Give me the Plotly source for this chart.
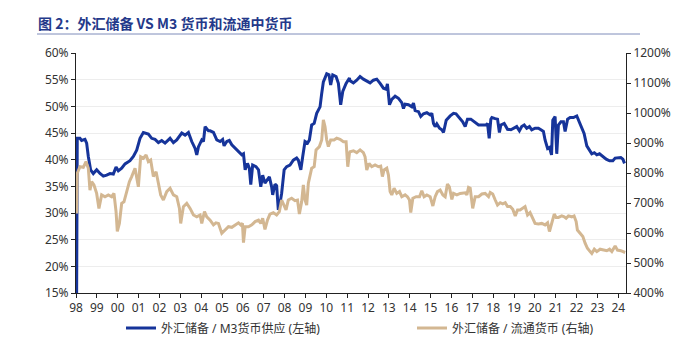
import plotly.graph_objects as go

# ---------------- data ----------------
tick_years = list(range(1998, 2025))
tick_labels = ["98", "99", "00", "01", "02", "03", "04", "05", "06", "07", "08", "09", "10",
               "11", "12", "13", "14", "15", "16", "17", "18", "19", "20", "21", "22", "23", "24"]

# 外汇储备 / M3货币供应 (左轴), %
m3_years = [
    1998.03, 1998.06, 1998.19, 1998.27, 1998.43, 1998.51, 1998.59, 1998.70, 1998.83, 1998.99,
    1999.15, 1999.31, 1999.47, 1999.63, 1999.79, 1999.92, 2000.03, 2000.19, 2000.35, 2000.59,
    2000.75, 2000.91, 2001.07, 2001.23, 2001.47, 2001.63, 2001.79, 2001.95, 2002.11, 2002.27,
    2002.51, 2002.67, 2002.83, 2003.07, 2003.23, 2003.39, 2003.55, 2003.71, 2003.79, 2003.87,
    2004.03, 2004.11, 2004.19, 2004.35, 2004.43, 2004.59, 2004.75, 2004.91, 2005.03, 2005.10,
    2005.23, 2005.35, 2005.47, 2005.63, 2005.79, 2005.95, 2006.03, 2006.11, 2006.22, 2006.31,
    2006.38, 2006.47, 2006.63, 2006.75, 2006.86, 2006.95, 2007.06, 2007.18, 2007.27, 2007.38,
    2007.43, 2007.54, 2007.62, 2007.70, 2007.78, 2007.86, 2007.98, 2008.10, 2008.26, 2008.42,
    2008.58, 2008.66, 2008.78, 2008.87, 2008.98, 2009.10, 2009.19, 2009.30, 2009.42, 2009.54,
    2009.62, 2009.70, 2009.78, 2009.86, 2010.02, 2010.13, 2010.21, 2010.31, 2010.47, 2010.58,
    2010.69, 2010.79, 2010.95, 2011.11, 2011.14, 2011.30, 2011.46, 2011.62, 2011.78, 2011.94,
    2012.10, 2012.26, 2012.42, 2012.58, 2012.74, 2012.87, 2012.93, 2013.03, 2013.14, 2013.30,
    2013.46, 2013.62, 2013.70, 2013.78, 2013.94, 2014.10, 2014.18, 2014.26, 2014.42, 2014.53,
    2014.66, 2014.82, 2014.98, 2015.06, 2015.14, 2015.22, 2015.30, 2015.43, 2015.54, 2015.62,
    2015.75, 2015.94, 2016.10, 2016.22, 2016.38, 2016.54, 2016.66, 2016.77, 2016.93, 2017.09,
    2017.30, 2017.50, 2017.66, 2017.73, 2017.81, 2017.89, 2017.94, 2018.10, 2018.21, 2018.30,
    2018.37, 2018.53, 2018.69, 2018.85, 2019.01, 2019.13, 2019.26, 2019.37, 2019.49, 2019.61,
    2019.74, 2019.85, 2020.01, 2020.17, 2020.29, 2020.41, 2020.49, 2020.61, 2020.70, 2020.80,
    2020.86, 2020.97, 2021.05, 2021.13, 2021.25, 2021.37, 2021.45, 2021.57, 2021.69, 2021.85,
    2022.01, 2022.14, 2022.25, 2022.36, 2022.49, 2022.62, 2022.73, 2022.85, 2022.97, 2023.10,
    2023.26, 2023.42, 2023.58, 2023.74, 2023.85, 2024.01, 2024.12, 2024.22, 2024.30,
]
m3_vals = [
    15.0, 44.0, 44.0, 43.6, 43.8, 43.1, 40.6, 38.1, 37.4, 38.1,
    37.4, 36.9, 37.1, 37.4, 37.3, 38.6, 37.9, 38.4, 39.2, 39.8,
    40.6, 41.8, 44.0, 45.1, 44.8, 44.0, 43.8, 43.2, 43.6, 43.1,
    44.0, 43.2, 43.7, 45.0, 44.6, 45.1, 43.4, 42.1, 40.9, 42.4,
    43.7, 43.4, 46.2, 45.4, 45.4, 45.1, 43.7, 43.4, 43.8, 42.6,
    43.4, 43.6, 42.8, 42.1, 41.5, 40.9, 41.1, 38.1, 39.3, 38.4,
    35.3, 39.0, 38.7, 38.1, 34.9, 37.1, 35.6, 36.2, 36.8, 34.9,
    33.4, 35.4, 35.1, 30.6, 31.8, 33.7, 38.1, 38.7, 39.0, 39.9,
    40.3, 39.9, 38.1, 40.6, 43.4, 43.1, 43.7, 46.5, 46.8, 48.7,
    49.3, 49.9, 52.4, 54.6, 56.1, 55.9, 54.0, 55.9, 55.6, 54.3,
    50.3, 52.8, 54.3, 55.3, 54.8, 54.4, 54.9, 55.6, 55.1, 54.8,
    54.4, 54.9, 55.1, 54.3, 53.4, 53.2, 54.2, 50.3, 51.3, 51.9,
    51.5, 50.7, 49.6, 50.4, 50.3, 49.9, 50.6, 49.2, 49.0, 48.1,
    48.6, 48.8, 48.4, 48.7, 46.8, 46.2, 46.7, 45.9, 45.6, 45.1,
    47.4, 48.2, 48.7, 48.6, 47.9, 47.1, 46.2, 47.6, 47.6, 47.1,
    46.5, 46.5, 46.5, 46.8, 44.0, 47.6, 47.9, 47.7, 47.6, 45.1,
    46.5, 46.8, 45.7, 45.6, 45.9, 46.2, 45.4, 46.2, 46.5, 45.9,
    46.2, 45.6, 45.9, 45.9, 45.6, 45.3, 43.7, 42.1, 42.3, 40.9,
    47.4, 48.1, 41.1, 46.5, 47.1, 47.1, 45.3, 47.6, 47.9, 47.9,
    48.2, 47.1, 45.9, 44.9, 42.6, 41.8, 41.1, 41.3, 40.9, 41.1,
    40.6, 40.1, 39.8, 39.8, 40.3, 40.3, 40.4, 40.1, 39.3,
]

# 外汇储备 / 流通货币 (右轴), %
cash_years = [
    1998.03, 1998.06, 1998.19, 1998.35, 1998.48, 1998.59, 1998.67, 1998.75, 1998.86, 1998.99,
    1999.10, 1999.23, 1999.39, 1999.55, 1999.71, 1999.82, 1999.92, 1999.98, 2000.08, 2000.19,
    2000.30, 2000.43, 2000.56, 2000.67, 2000.83, 2000.99, 2001.10, 2001.23, 2001.36, 2001.47,
    2001.58, 2001.71, 2001.84, 2001.95, 2002.06, 2002.19, 2002.35, 2002.51, 2002.67, 2002.83,
    2002.96, 2003.02, 2003.15, 2003.31, 2003.47, 2003.63, 2003.79, 2003.95, 2004.03, 2004.16,
    2004.27, 2004.43, 2004.59, 2004.71, 2004.83, 2004.99, 2005.15, 2005.31, 2005.47, 2005.63,
    2005.79, 2005.90, 2005.98, 2006.03, 2006.11, 2006.27, 2006.43, 2006.59, 2006.75, 2006.86,
    2006.95, 2007.06, 2007.18, 2007.30, 2007.46, 2007.62, 2007.75, 2007.86, 2007.98, 2008.07,
    2008.18, 2008.34, 2008.50, 2008.62, 2008.71, 2008.82, 2008.90, 2008.98, 2009.06, 2009.14,
    2009.30, 2009.42, 2009.51, 2009.67, 2009.78, 2009.86, 2009.94, 2010.02, 2010.10, 2010.21,
    2010.37, 2010.50, 2010.66, 2010.82, 2010.95, 2011.03, 2011.11, 2011.14, 2011.30, 2011.46,
    2011.62, 2011.78, 2011.86, 2011.94, 2012.05, 2012.18, 2012.34, 2012.50, 2012.61, 2012.69,
    2012.77, 2012.90, 2012.98, 2013.06, 2013.14, 2013.25, 2013.38, 2013.51, 2013.62, 2013.78,
    2013.89, 2013.99, 2014.05, 2014.15, 2014.31, 2014.47, 2014.58, 2014.69, 2014.82, 2014.98,
    2015.11, 2015.22, 2015.33, 2015.46, 2015.59, 2015.70, 2015.81, 2015.90, 2016.02, 2016.10,
    2016.26, 2016.42, 2016.66, 2016.74, 2016.82, 2016.90, 2017.02, 2017.14, 2017.30, 2017.46,
    2017.62, 2017.78, 2017.86, 2017.98, 2018.10, 2018.21, 2018.34, 2018.46, 2018.58, 2018.69,
    2018.82, 2018.94, 2019.06, 2019.17, 2019.29, 2019.42, 2019.53, 2019.65, 2019.77, 2019.90,
    2020.01, 2020.17, 2020.33, 2020.49, 2020.61, 2020.70, 2020.81, 2020.93, 2021.02, 2021.13,
    2021.29, 2021.41, 2021.50, 2021.61, 2021.77, 2021.88, 2021.98, 2022.04, 2022.17, 2022.30,
    2022.41, 2022.52, 2022.65, 2022.73, 2022.85, 2022.97, 2023.13, 2023.29, 2023.45, 2023.58,
    2023.69, 2023.85, 2023.96, 2024.12, 2024.25, 2024.33,
]
cash_vals = [
    665, 799, 821, 819, 838, 816, 743, 771, 760, 732,
    682, 727, 721, 727, 721, 732, 671, 605, 632, 699,
    704, 743, 771, 788, 816, 754, 854, 849, 860, 838,
    843, 788, 804, 766, 727, 710, 738, 749, 727, 721,
    682, 632, 688, 699, 682, 660, 654, 660, 632, 671,
    654, 643, 627, 634, 632, 599, 610, 621, 619, 627,
    634, 627, 632, 568, 621, 621, 627, 638, 643, 632,
    649, 612, 643, 663, 668, 660, 671, 710, 688, 677,
    710, 716, 708, 710, 663, 704, 760, 710, 693, 766,
    816, 821, 877, 888, 910, 977, 954, 910, 888, 910,
    910, 916, 912, 904, 904, 821, 866, 871, 874, 868,
    877, 868, 854, 810, 832, 821, 827, 821, 823, 788,
    810, 816, 793, 738, 727, 749, 732, 738, 721, 727,
    721, 710, 668, 716, 721, 721, 741, 721, 727, 721,
    690, 721, 738, 743, 727, 721, 763, 754, 712, 732,
    727, 732, 734, 727, 752, 749, 682, 721, 721, 730,
    732, 721, 735, 730, 710, 693, 701, 697, 701, 688,
    688, 679, 657, 677, 677, 682, 688, 660, 668, 649,
    632, 630, 632, 627, 634, 605, 632, 663, 652, 652,
    657, 654, 649, 657, 654, 657, 638, 610, 599, 588,
    566, 549, 538, 532, 546, 538, 546, 543, 541, 546,
    538, 557, 543, 541, 538, 535,
]

series_names = ["外汇储备 / M3货币供应 (左轴)", "外汇储备 / 流通货币 (右轴)"]
title_text = "图 2：外汇储备 VS M3 货币和流通中货币"

# ---------------- styling ----------------
BLUE = "#16349A"
TAN = "#D3B792"
AXIS = "#222222"
TEXT = "#333333"
FONT = "Noto Sans, Noto Sans CJK SC, sans-serif"

W, H = 678, 352
L, R, T, B = 76, 52, 53, 59
plot_w = W - L - R
plot_h = H - T - B


def px_x(p):
    return (p - L) / plot_w


def px_y(p):
    return (H - B - p) / plot_h


fig = go.Figure()
fig.add_trace(go.Scatter(
    x=m3_years, y=m3_vals, name=series_names[0], mode="lines",
    line=dict(color=BLUE, width=3), yaxis="y", legend="legend",
))
fig.add_trace(go.Scatter(
    x=cash_years, y=cash_vals, name=series_names[1], mode="lines",
    line=dict(color=TAN, width=3), yaxis="y2", legend="legend2",
))

fig.update_layout(
    width=W, height=H,
    margin=dict(l=L, r=R, t=T, b=B, autoexpand=False),
    paper_bgcolor="white", plot_bgcolor="white",
    font=dict(family=FONT, size=12, color=TEXT),
    xaxis=dict(
        range=[1998.0, 2024.37], tickmode="array", tickvals=tick_years, ticktext=tick_labels,
        showgrid=False, zeroline=False, showline=True, linecolor=AXIS, linewidth=1,
        ticks="outside", ticklen=4, tickcolor=AXIS, tickfont=dict(size=12, color=TEXT),
    ),
    yaxis=dict(
        range=[15, 60], dtick=5, tick0=15, ticksuffix="%",
        showgrid=True, gridcolor="#EDEDED", gridwidth=1, zeroline=False,
        showline=True, linecolor=AXIS, linewidth=1,
        ticks="outside", ticklen=4, tickcolor=AXIS, tickfont=dict(size=12, color=TEXT),
    ),
    yaxis2=dict(
        range=[400, 1200], dtick=100, tick0=400, ticksuffix="%", overlaying="y", side="right",
        showgrid=False, zeroline=False, showline=True, linecolor=AXIS, linewidth=1,
        ticks="outside", ticklen=4, tickcolor=AXIS, tickfont=dict(size=12, color=TEXT),
    ),
    legend=dict(
        orientation="h", x=px_x(121), y=px_y(328), xanchor="left", yanchor="middle",
        bgcolor="rgba(0,0,0,0)", font=dict(size=12, color=TEXT),
    ),
    legend2=dict(
        orientation="h", x=px_x(412), y=px_y(328), xanchor="left", yanchor="middle",
        bgcolor="rgba(0,0,0,0)", font=dict(size=12, color=TEXT),
    ),
    showlegend=True,
)

fig.add_annotation(
    text="<b>" + title_text + "</b>", xref="paper", yref="paper",
    x=px_x(36), y=px_y(23), xanchor="left", yanchor="middle", showarrow=False,
    font=dict(family="Noto Sans CJK SC, sans-serif", size=14, color="#24398A"),
)
fig.add_shape(
    type="line", xref="paper", yref="paper",
    x0=px_x(37), x1=px_x(640), y0=px_y(34), y1=px_y(34),
    line=dict(color="#7F8CBA", width=1),
)

fig.write_html("out.html")
